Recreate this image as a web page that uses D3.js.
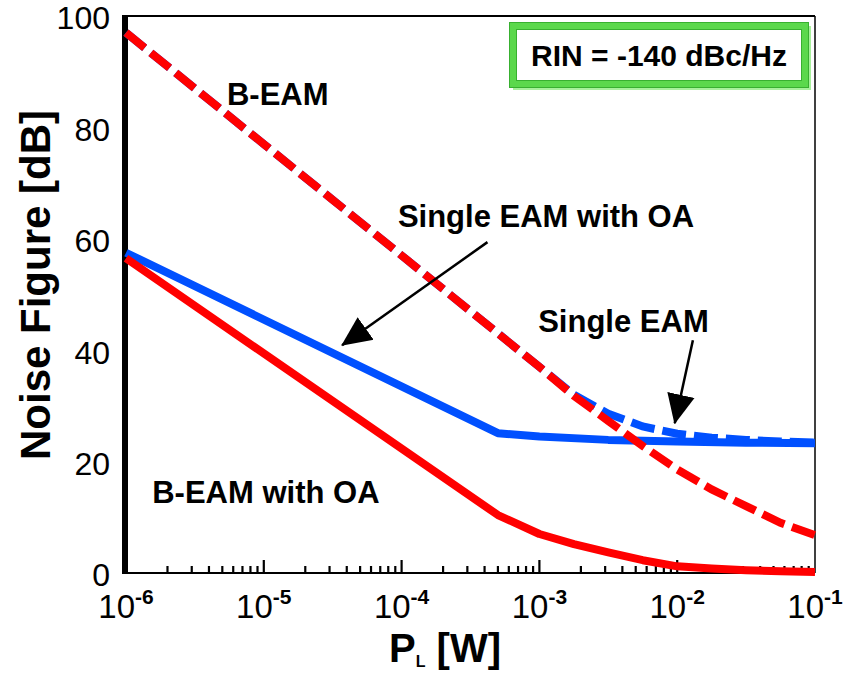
<!DOCTYPE html>
<html><head><meta charset="utf-8">
<script src="https://cdn.jsdelivr.net/npm/d3@7"></script>
<style>body{margin:0;background:#fff}svg{display:block}text{font-family:"Liberation Sans",Arial,sans-serif}</style>
</head><body>
<svg id="chart" width="861" height="676"></svg>
<script>
// ---- data ----
const bEamP  = [1e-6, 3.16e-6, 1e-5, 3.16e-5, 1e-4, 3.16e-4, 1e-3, 1.78e-3, 3.16e-3, 5.62e-3, 1e-2, 1.78e-2, 3.16e-2, 5.62e-2, 1e-1];
const bEamNF = [97, 87, 77, 67, 57, 47, 37, 31.8, 27.3, 22.8, 18.6, 15.0, 12.0, 9.0, 6.8];
const singleEamP  = [1e-6, 1e-5, 1e-4, 1e-3, 1.78e-3, 3.16e-3, 5.62e-3, 1e-2, 1.78e-2, 3.16e-2, 5.62e-2, 1e-1];
const singleEamNF = [97, 77, 57, 37, 32.0, 28.6, 26.3, 25.0, 24.3, 23.9, 23.6, 23.4];
const singleOaP  = [1e-6, 5e-4, 1e-3, 3.16e-3, 1e-2, 3.16e-2, 1e-1];
const singleOaNF = [57.5, 25.1, 24.5, 23.9, 23.6, 23.4, 23.3];
const bOaP  = [1e-6, 5e-4, 1e-3, 1.78e-3, 3.16e-3, 5.62e-3, 1e-2, 1.78e-2, 3.16e-2, 5.62e-2, 1e-1];
const bOaNF = [56.5, 10.4, 7.0, 5.2, 3.7, 2.3, 1.2, 0.8, 0.5, 0.3, 0.2];
const yTicks = [0, 20, 40, 60, 80, 100];
const xTickExp = ["-6", "-5", "-4", "-3", "-2", "-1"];
const labelText = ["B-EAM", "Single EAM with OA", "Single EAM", "B-EAM with OA"];
const labelP  = [5.4e-6, 9.4e-5, 9.8e-4, 1.55e-6];
const labelNF = [84.0, 62.1, 43.3, 12.6];
const arrowFromP = [4.2e-4, 1.3e-2], arrowFromNF = [59.4, 41.8];
const arrowToP   = [3.7e-5, 9.6e-3], arrowToNF   = [40.9, 26.9];
const rinText = "RIN = -140 dBc/Hz";

// ---- layout ----
const L = 126, R = 815, T = 16, B = 573;
const svg = d3.select("#chart");
const x = d3.scaleLog().domain([1e-6, 1e-1]).range([L, R]);
const y = d3.scaleLinear().domain([0, 100]).range([B, T]);

svg.append("rect").attr("width", 861).attr("height", 676).attr("fill", "#fff");

// frame
svg.append("line").attr("x1", L).attr("x2", R).attr("y1", T).attr("y2", T).attr("stroke", "#000").attr("stroke-width", 2);
svg.append("line").attr("x1", R).attr("x2", R).attr("y1", T).attr("y2", B).attr("stroke", "#000").attr("stroke-width", 1.5);
svg.append("line").attr("x1", L).attr("x2", R).attr("y1", B).attr("y2", B).attr("stroke", "#000").attr("stroke-width", 2);

// x minor/major ticks (inside)
const ticks = x.ticks().filter(t => t > 1e-6 * 1.01 && t < 1e-1 * 0.99);
svg.append("g").selectAll("line").data(ticks).join("line")
  .attr("x1", d => x(d)).attr("x2", d => x(d))
  .attr("y1", B).attr("y2", d => {
    const m = Math.abs(Math.log10(d) - Math.round(Math.log10(d))) < 1e-6;
    return m ? B - 13 : B - 7;
  })
  .attr("stroke", "#000").attr("stroke-width", 2.2);

// left axis (thick)
svg.append("line").attr("x1", L - 1).attr("x2", L - 1).attr("y1", T - 1).attr("y2", B + 1).attr("stroke", "#000").attr("stroke-width", 6);

// y tick labels
svg.append("g").selectAll("text").data(yTicks).join("text")
  .attr("x", 110).attr("y", d => y(d)).attr("dy", "0.42em")
  .attr("text-anchor", "end").attr("font-size", 32).attr("fill", "#000")
  .text(d => d);

// x tick labels
const xl = svg.append("g").selectAll("text").data(xTickExp).join("text")
  .attr("x", d => x(Math.pow(10, +d))).attr("y", 618)
  .attr("text-anchor", "middle").attr("font-size", 33).attr("fill", "#000");
xl.append("tspan").text("10");
xl.append("tspan").attr("dy", -14).attr("font-size", 21).attr("font-weight", "bold").text(d => d);

// axis titles
svg.append("text").attr("transform", "translate(50,285) rotate(-90)")
  .attr("text-anchor", "middle").attr("font-size", 42).attr("font-weight", "bold").text("Noise Figure [dB]");
const xt = svg.append("text").attr("x", 389).attr("y", 662).attr("font-size", 40).attr("font-weight", "bold");
xt.append("tspan").text("P");
xt.append("tspan").attr("font-size", 16).attr("dy", 5).text("L");
xt.append("tspan").attr("dy", -5).text(" [W]");

// lines
const line = d3.line().x(d => x(d[0])).y(d => y(d[1]));
const zip = (a, b) => a.map((v, i) => [v, b[i]]);
svg.append("path").datum(zip(singleOaP, singleOaNF)).attr("d", line)
  .attr("fill", "none").attr("stroke", "#0050ff").attr("stroke-width", 8).attr("stroke-linejoin", "round");
svg.append("path").datum(zip(bOaP, bOaNF)).attr("d", line)
  .attr("fill", "none").attr("stroke", "#ff0000").attr("stroke-width", 8).attr("stroke-linejoin", "round");
svg.append("path").datum(zip(singleEamP, singleEamNF)).attr("d", line)
  .attr("fill", "none").attr("stroke", "#0050ff").attr("stroke-width", 8).attr("stroke-dasharray", "24 8");
svg.append("path").datum(zip(bEamP, bEamNF)).attr("d", line)
  .attr("fill", "none").attr("stroke", "#ff0000").attr("stroke-width", 8).attr("stroke-dasharray", "24 8");

// annotations
svg.append("g").selectAll("text").data(labelText).join("text")
  .attr("x", (d, i) => x(labelP[i])).attr("y", (d, i) => y(labelNF[i]))
  .attr("font-size", 31).attr("font-weight", "bold").attr("fill", "#000").text(d => d);

// arrows
svg.append("defs").append("marker").attr("id", "ah")
  .attr("markerUnits", "userSpaceOnUse").attr("markerWidth", 30).attr("markerHeight", 30)
  .attr("viewBox", "0 -13 27 26").attr("refX", 26).attr("refY", 0).attr("orient", "auto")
  .append("path").attr("d", "M0,-12.5L27,0L0,12.5Z").attr("fill", "#000");
svg.append("g").selectAll("line").data(arrowFromP).join("line")
  .attr("x1", (d, i) => x(d)).attr("y1", (d, i) => y(arrowFromNF[i]))
  .attr("x2", (d, i) => x(arrowToP[i])).attr("y2", (d, i) => y(arrowToNF[i]))
  .attr("stroke", "#000").attr("stroke-width", 2.5).attr("marker-end", "url(#ah)");

// RIN box
const bx = 513, by = 26, bw = 292, bh = 58;
svg.append("rect").attr("x", bx + 3).attr("y", by + 3).attr("width", bw).attr("height", bh)
  .attr("fill", "none").attr("stroke", "#a8f09c").attr("stroke-width", 6);
svg.append("rect").attr("x", bx).attr("y", by).attr("width", bw).attr("height", bh)
  .attr("fill", "#fff").attr("stroke", "#5bd84c").attr("stroke-width", 7);
svg.append("rect").attr("x", bx - 3.5).attr("y", by - 3.5).attr("width", bw + 7).attr("height", bh + 7)
  .attr("fill", "none").attr("stroke", "#38b030").attr("stroke-width", 1);
svg.append("rect").attr("x", bx + 3.5).attr("y", by + 3.5).attr("width", bw - 7).attr("height", bh - 7)
  .attr("fill", "none").attr("stroke", "#38b030").attr("stroke-width", 1);
svg.append("text").attr("x", bx + bw / 2).attr("y", by + bh / 2).attr("dy", "0.36em")
  .attr("text-anchor", "middle").attr("font-size", 30).attr("font-weight", "bold").text(rinText);
</script>
</body></html>
